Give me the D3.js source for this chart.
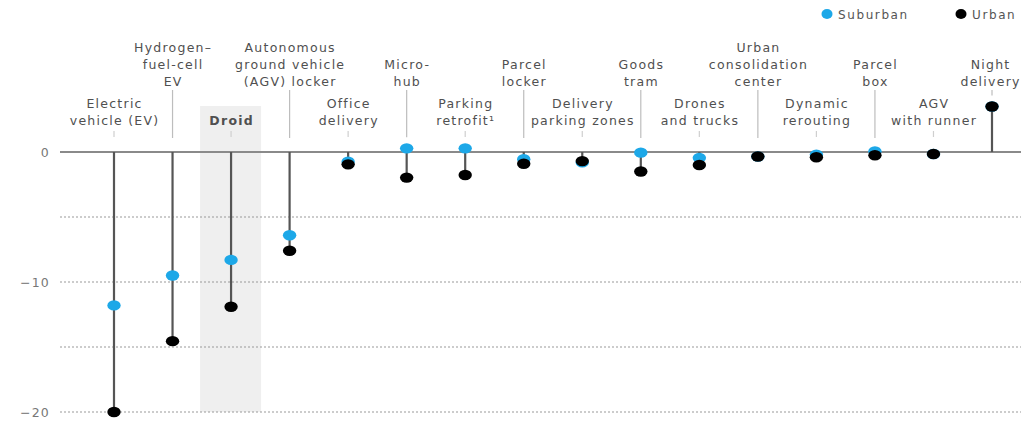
<!DOCTYPE html>
<html>
<head>
<meta charset="utf-8">
<script src="https://cdn.jsdelivr.net/npm/d3@7"></script>
<style>
  html, body { margin: 0; padding: 0; background: #fff; }
  svg { display: block; }
  text { font-family: "DejaVu Sans", "Liberation Sans", sans-serif; }
</style>
</head>
<body>
<svg id="chart" width="1021" height="422"></svg>
<script>
// ---- data ----
const categories = [
  "Electric vehicle (EV)", "Hydrogen–fuel-cell EV", "Droid", "Autonomous ground vehicle (AGV) locker",
  "Office delivery", "Micro-hub", "Parking retrofit¹", "Parcel locker",
  "Delivery parking zones", "Goods tram", "Drones and trucks", "Urban consolidation center",
  "Dynamic rerouting", "Parcel box", "AGV with runner", "Night delivery"
];
const labelLines = [
  ["Electric", "vehicle (EV)"], ["Hydrogen–", "fuel-cell", "EV"], ["Droid"], ["Autonomous", "ground vehicle", "(AGV) locker"],
  ["Office", "delivery"], ["Micro-", "hub"], ["Parking", "retrofit¹"], ["Parcel", "locker"],
  ["Delivery", "parking zones"], ["Goods", "tram"], ["Drones", "and trucks"], ["Urban", "consolidation", "center"],
  ["Dynamic", "rerouting"], ["Parcel", "box"], ["AGV", "with runner"], ["Night", "delivery"]
];
const suburban = [-11.8, -9.5, -8.3, -6.4, -0.75, 0.28, 0.28, -0.55, -0.8, -0.05, -0.45, -0.35, -0.2, 0.05, -0.15, 3.5];
const urban    = [-20.0, -14.55, -11.9, -7.6, -0.95, -1.97, -1.77, -0.9, -0.7, -1.5, -1.0, -0.35, -0.4, -0.25, -0.15, 3.5];
const gridValues = [-5, -10, -15, -20];
const tickValues = [0, -10, -20];
const highlighted = "Droid";
const seriesNames = ["Suburban", "Urban"];
const seriesColors = ["#1da8e8", "#000000"];

// ---- layout ----
const svg = d3.select("#chart");
const x = d3.scalePoint().domain(categories).range([114, 992]);
const y = d3.scaleLinear().domain([-20, 0]).range([412, 152]);
const plotLeft = 60, plotRight = 1021;

// highlight band
svg.append("rect")
  .attr("x", x(highlighted) - 31).attr("width", 61)
  .attr("y", 106).attr("height", y(-20) - 106)
  .attr("fill", "#efefef");

// gridlines
svg.selectAll(".grid").data(gridValues).join("line")
  .attr("x1", plotLeft).attr("x2", plotRight)
  .attr("y1", d => y(d)).attr("y2", d => y(d))
  .attr("stroke", "#9a9a9a").attr("stroke-width", 1.2)
  .attr("stroke-dasharray", "2,2");

// y tick labels
const yAxis = d3.axisLeft(y).tickValues(tickValues).tickSize(0).tickPadding(0)
  .tickFormat(d => d3.format("d")(d).replace("-", "−"));
const yg = svg.append("g").attr("transform", "translate(50,0)").call(yAxis);
yg.select(".domain").remove();
yg.selectAll("text").attr("font-family", "DejaVu Sans, sans-serif")
  .attr("font-size", 12.5).attr("fill", "#777").attr("letter-spacing", "1.2px");

// zero line
svg.append("line")
  .attr("x1", plotLeft).attr("x2", plotRight)
  .attr("y1", y(0)).attr("y2", y(0))
  .attr("stroke", "#8a8a8a").attr("stroke-width", 2);

// category labels
const lineH = 17;
categories.forEach((c, i) => {
  const lines = labelLines[i];
  const top = i % 2 === 1;
  const lastBaseline = top ? 86 : 125;
  const g = svg.append("text")
    .attr("text-anchor", "middle")
    .attr("font-size", 12.5)
    .attr("letter-spacing", "1.25px")
    .attr("fill", "#505050")
    .attr("font-weight", c === highlighted ? "bold" : "normal");
  lines.forEach((ln, j) => {
    g.append("tspan")
      .attr("x", x(c) + 0.6 - (i === categories.length - 1 ? 2 : 0))
      .attr("y", lastBaseline - (lines.length - 1 - j) * lineH)
      .text(ln);
  });
  // connector / tick under label
  const maxV = Math.max(suburban[i], urban[i], 0);
  const dotTop = y(maxV) - 6;
  let y1, y2;
  if (top) { y1 = 90; y2 = Math.min(138, dotTop - 5); }
  else { y1 = 131; y2 = Math.min(137, dotTop - 5); }
  svg.append("line")
    .attr("x1", x(c)).attr("x2", x(c))
    .attr("y1", y1).attr("y2", y2)
    .attr("stroke", top ? "#bdbdbd" : "#cfcfcf").attr("stroke-width", 1.2);
});

// stems
svg.selectAll(".stem").data(categories).join("line")
  .attr("x1", d => x(d)).attr("x2", d => x(d))
  .attr("y1", (d, i) => y(Math.max(0, suburban[i], urban[i])))
  .attr("y2", (d, i) => y(Math.min(0, suburban[i], urban[i])))
  .attr("stroke", "#555").attr("stroke-width", 2.2);

// dots: suburban first, urban on top
[suburban, urban].forEach((vals, s) => {
  svg.selectAll(".dot" + s).data(categories).join("ellipse")
    .attr("cx", d => x(d))
    .attr("cy", (d, i) => y(vals[i]))
    .attr("rx", 6.7).attr("ry", 5.2)
    .attr("fill", seriesColors[s]);
});

// legend
const legendX = [827, 961];
seriesNames.forEach((n, i) => {
  svg.append("ellipse").attr("cx", legendX[i]).attr("cy", 14)
    .attr("rx", 5.5).attr("ry", 5).attr("fill", seriesColors[i]);
  svg.append("text").attr("x", legendX[i] + 11).attr("y", 18.5)
    .attr("font-size", 12).attr("letter-spacing", "1.6px")
    .attr("fill", "#555").text(n);
});
</script>
</body>
</html>
